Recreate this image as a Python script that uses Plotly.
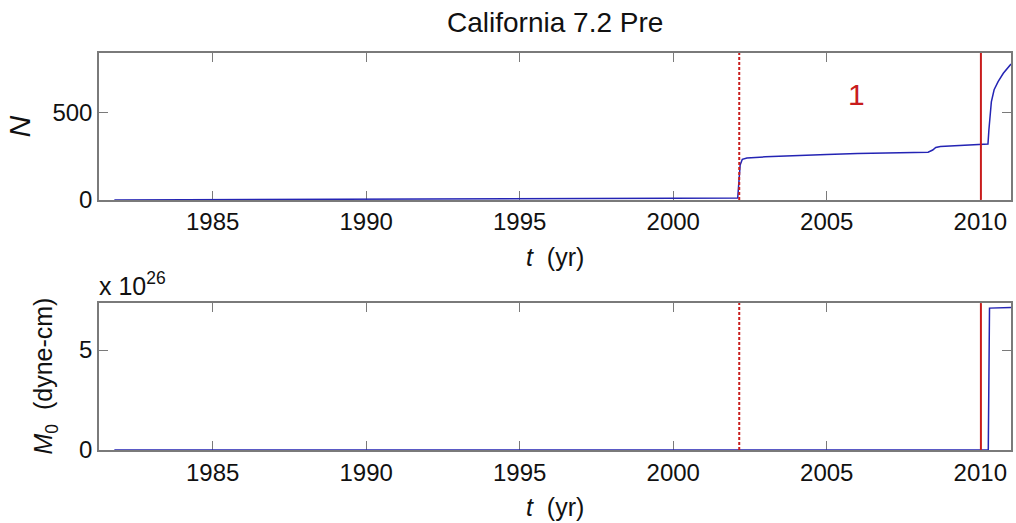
import plotly.graph_objects as go

# Cumulative number of events N(t)
t_count = [1981.8, 1985.0, 1990.0, 1995.0, 1998.0, 2000.0, 2002.1, 2002.15, 2002.18,
           2002.25, 2002.4, 2003.0, 2004.0, 2005.0, 2006.0, 2007.0, 2008.3, 2008.45,
           2008.55, 2008.7, 2009.5, 2010.25, 2010.28, 2010.32, 2010.36, 2010.45,
           2010.58, 2010.75, 2010.9, 2011.0]
n_count = [0, 1, 3, 5, 7, 9, 11, 120, 200, 232, 240, 246, 254, 260, 265, 269, 273, 285,
           300, 305, 312, 320, 400, 500, 560, 630, 676, 724, 755, 777]

# Cumulative seismic moment M0(t), in units of 1e26 dyne-cm
t_moment = [1981.8, 2010.26, 2010.30, 2010.6, 2011.0]
m_moment = [0.0, 0.0, 7.10, 7.12, 7.13]

# Reference times
t_dashed = 2002.15
t_main = 2010.02

x_ticks = [1985, 1990, 1995, 2000, 2005, 2010]
x_range = [1981.3, 2011.0]

FONT = "Liberation Sans"
AX_GRAY = "#7a7a7a"
BLUE = "#2424b4"
RED = "#c81c1c"

fig = go.Figure()
fig.add_trace(go.Scatter(x=t_count, y=n_count, mode="lines",
                         line=dict(color=BLUE, width=1.5), xaxis="x", yaxis="y",
                         showlegend=False))
fig.add_trace(go.Scatter(x=t_moment, y=m_moment, mode="lines",
                         line=dict(color=BLUE, width=1.5), xaxis="x2", yaxis="y2",
                         showlegend=False))

axis_common = dict(
    showgrid=False, zeroline=False, showline=True, linecolor=AX_GRAY, linewidth=1.5,
    mirror="allticks", ticks="inside", ticklen=9, tickcolor=AX_GRAY, tickwidth=1.2,
    tickfont=dict(family=FONT, size=24, color="#111"), layer="below traces",
)

fig.update_layout(
    width=1016, height=523,
    margin=dict(l=99, r=3, t=53, b=73),
    plot_bgcolor="white", paper_bgcolor="white",
    font=dict(family=FONT, color="#111"),
    xaxis=dict(domain=[0, 1], range=x_range, tickvals=x_ticks, anchor="y", **axis_common),
    yaxis=dict(domain=[0.63, 1], range=[0, 840], tickvals=[0, 500], anchor="x", **axis_common),
    xaxis2=dict(domain=[0, 1], range=x_range, tickvals=x_ticks, anchor="y2", **axis_common),
    yaxis2=dict(domain=[0, 0.37], range=[0, 7.35], tickvals=[0, 5], anchor="x2", **axis_common),
)

# Vertical marker lines in both panels
for xr, yr in (("x", "y"), ("x2", "y2")):
    fig.add_shape(type="line", xref=xr, yref=f"{yr} domain", x0=t_dashed, x1=t_dashed,
                  y0=0, y1=1, line=dict(color=RED, width=2, dash="3px,2px"))
    fig.add_shape(type="line", xref=xr, yref=f"{yr} domain", x0=t_main, x1=t_main,
                  y0=0, y1=1, line=dict(color=RED, width=2))

ann = []
ann.append(dict(text="California 7.2 Pre", xref="paper", yref="paper", x=0.5, y=1,
                yshift=31, yanchor="middle", showarrow=False,
                font=dict(family=FONT, size=28, color="#111")))
ann.append(dict(text="1", xref="x", yref="y", x=2005.97, y=600, showarrow=False,
                font=dict(family=FONT, size=30, color=RED)))
ann.append(dict(text="<i>N</i>", xref="paper", yref="y domain", x=0, xshift=-80,
                xanchor="center", y=0.5, yanchor="middle", textangle=-90, showarrow=False,
                font=dict(family=FONT, size=30, color="#111")))
ann.append(dict(text="<i>M</i><sub>0</sub>  (dyne-cm)", xref="paper", yref="y2 domain",
                x=0, xshift=-54, xanchor="center", y=0.5, yanchor="middle", textangle=-90,
                showarrow=False, font=dict(family=FONT, size=25, color="#111")))
ann.append(dict(text="x 10<sup>26</sup>", xref="paper", yref="y2 domain", x=0, xshift=-2,
                y=1, yshift=1, xanchor="left", yanchor="bottom", showarrow=False,
                font=dict(family=FONT, size=25, color="#111")))
for yr in ("y", "y2"):
    ann.append(dict(text="<i>t</i>  (yr)", xref="paper", yref=f"{yr} domain", x=0.5,
                    y=0, yshift=-57, yanchor="middle", showarrow=False,
                    font=dict(family=FONT, size=25, color="#111")))
fig.update_layout(annotations=ann)

fig.write_html("out.html")
